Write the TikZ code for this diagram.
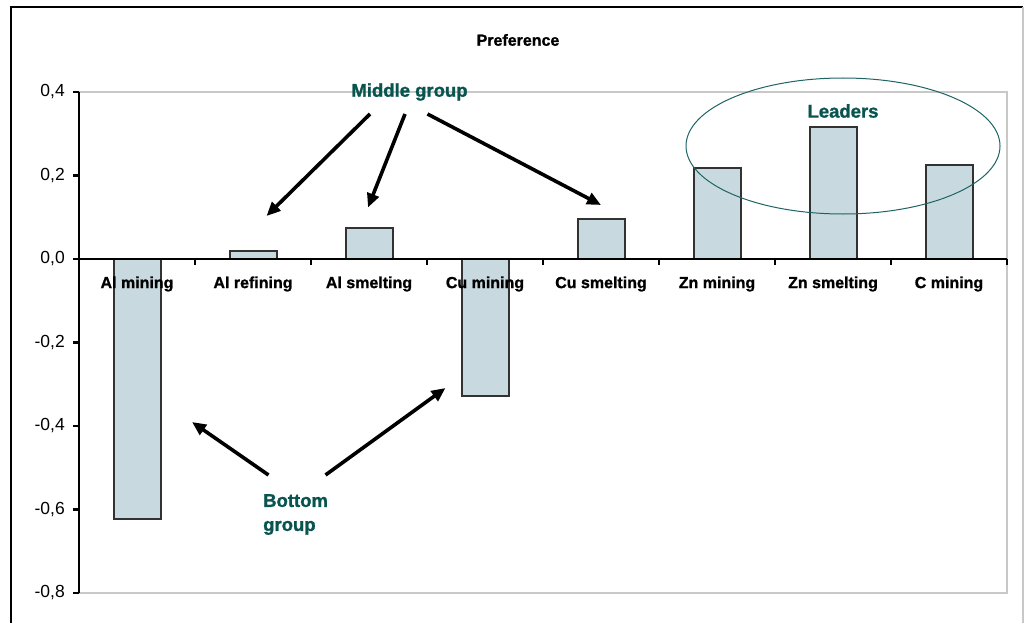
\documentclass[tikz,border=0pt]{standalone}
\usepackage{fontspec}
\setmainfont{Liberation Sans}
\newfontfamily\heavyfont{Liberation Sans Bold}[FakeBold=1.2]
\usetikzlibrary{arrows.meta}
\definecolor{grpteal}{RGB}{8,84,78}
\definecolor{elteal}{RGB}{30,100,100}
\definecolor{barfill}{RGB}{201,217,224}
\definecolor{barline}{RGB}{50,50,50}
\definecolor{gridgray}{RGB}{200,200,200}
\tikzset{
  barstyle/.style={fill=barfill,draw=barline,line width=2},
  axisline/.style={black,line width=2.2},
  ticklabel/.style={anchor=east,inner sep=0pt,font=\fontsize{17.5}{20}\selectfont},
  catlabel/.style={inner sep=0pt,font=\heavyfont\fontsize{16}{19}\selectfont},
  grouplabel/.style={inner sep=0pt,text=grpteal,font=\heavyfont\fontsize{18.5}{24}\selectfont},
  pointer/.style={line width=3.6,-{Triangle[length=14pt,width=12pt]}}
}
\begin{document}
\begin{tikzpicture}[x=1pt,y=-1pt]
\useasboundingbox (0,0) rectangle (1024,623);
\fill[white] (0,0) rectangle (1024,623);
% outer frame
\draw[black,line width=2.4] (11,623) -- (11,7) -- (1023,7);
\draw[gridgray,line width=1.4] (1023,7) -- (1023,623);
% plot area
\draw[gridgray,line width=1.4] (79,92) rectangle (1007,593);
% title
\node[inner sep=0pt,font=\heavyfont\fontsize{16}{18}\selectfont] (title) at (518,40) {Preference};
% bars
\foreach \i/\v in {0/-0.623,1/0.018,2/0.075,3/-0.328,4/0.096,5/0.218,6/0.315,7/0.224}
  \draw[barstyle] ({137+116*\i-23.5},259) rectangle ({137+116*\i+23.5},{259-417.5*\v});
% y axis
\draw[axisline] (79,92) -- (79,593);
\foreach \k in {0,...,6}
  \draw[axisline] (73,{92+83.5*\k}) -- (79,{92+83.5*\k});
\foreach \k/\t in {0/{0,4},1/{0,2},2/{0,0},3/{-0,2},4/{-0,4},5/{-0,6},6/{-0,8}}
  \node[ticklabel] (yl\k) at (65,{92+83.5*\k}) {\t};
% zero line
\draw[axisline] (79,259) -- (1007,259);
\foreach \k in {1,...,8}
  \draw[axisline] ({79+116*\k},259) -- ({79+116*\k},265);
% category labels
\foreach \i/\t in {0/Al mining,1/Al refining,2/Al smelting,3/Cu mining,4/Cu smelting,5/Zn mining,6/Zn smelting,7/C mining}
  \node[catlabel] (cat\i) at ({137+116*\i},284) {\t};
% leaders ellipse
\draw[elteal,line width=1] (843,146) ellipse [x radius=157, y radius=68];
\node[grouplabel] (leaders) at (843,111) {Leaders};
\node[grouplabel] (middle) at (409.5,92) {Middle group};
\node[grouplabel,anchor=west,align=left] (bottom) at (263,514.5) {Bottom\\group};
% arrows
\coordinate (m1s) at (370,114);   \coordinate (m1e) at (266.5,216);
\coordinate (m2s) at (405,114);   \coordinate (m2e) at (368,207.5);
\coordinate (m3s) at (427.5,114); \coordinate (m3e) at (601,205);
\coordinate (b1s) at (268.5,475); \coordinate (b1e) at (192,422);
\coordinate (b2s) at (325.5,475); \coordinate (b2e) at (445.5,388);
\draw[pointer] (m1s) -- (m1e);
\draw[pointer] (m2s) -- (m2e);
\draw[pointer] (m3s) -- (m3e);
\draw[pointer] (b1s) -- (b1e);
\draw[pointer] (b2s) -- (b2e);
\end{tikzpicture}
\end{document}
